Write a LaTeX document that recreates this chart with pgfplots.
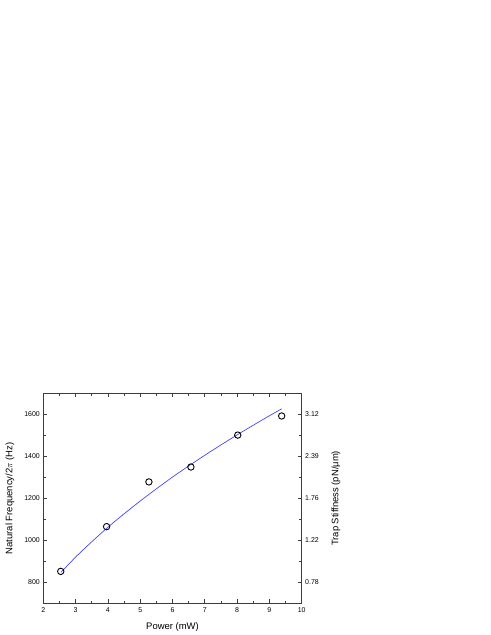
\documentclass[border=0pt]{standalone}
\usepackage{pgfplots}
\pgfplotsset{compat=1.18}
\usepackage{fontspec}
\setmainfont{Liberation Sans}

\definecolor{fitblue}{RGB}{70,70,245}
\definecolor{axisgray}{RGB}{60,60,60}

\begin{document}
\begin{tikzpicture}
\path[use as bounding box] (-43.3bp,-31.7bp) rectangle (447.7bp,603.3bp);
\pgfplotsset{
  every axis/.append style={
    scale only axis, width=258.4bp, height=210bp,
    xmin=2, xmax=10, ymin=700, ymax=1700,
    tick align=inside,
    axis line style={axisgray, line width=0.8pt},
    every tick/.style={axisgray, line width=0.6pt},
    major tick length=4bp, minor tick length=2.5bp,
    /pgf/number format/assume math mode=true,
    /pgf/number format/1000 sep={},
    tick label style={font=\fontsize{7}{8}\selectfont},
    label style={font=\fontsize{9.5}{11}\selectfont},
  }
}
\begin{axis}[
  xtick={2,3,...,10}, minor xtick={2.5,3.5,...,9.5},
  ytick={800,1000,...,1600}, minor ytick={900,1100,...,1700},
  xtick pos=both, ytick pos=left,
  xticklabel pos=bottom,
  xlabel={Power (mW)},
  ylabel={Natural Frequency/2$\pi$ (Hz)},
  xlabel style={yshift=-3bp},
  ylabel style={yshift=3bp},
  xticklabel style={yshift=-1bp},
]
% fitted curve
\addplot[fitblue, line width=0.7pt, smooth] coordinates {
  (2.55,848) (3,920) (3.5,993) (4,1062) (4.5,1126) (5,1187) (5.5,1245)
  (6,1301) (6.5,1354) (7,1405) (7.5,1454) (8,1502) (8.5,1548) (9,1593) (9.38,1626)
};
% measured points
\addplot[only marks, mark=o, mark size=3.2bp, mark options={black, line width=0.9pt}] coordinates {
  (2.54,852) (3.96,1065) (5.27,1278) (6.57,1349) (8.02,1501) (9.38,1592)
};
\end{axis}
\begin{axis}[
  axis x line=none, axis y line*=right,
  ytick={800,1000,...,1600}, minor ytick={900,1100,...,1700},
  yticklabels={0.78,1.22,1.76,2.39,3.12},
  ylabel={Trap Stiffness (pN/μm)},
  ylabel style={yshift=-6bp},
]
\addplot[draw=none] coordinates {(2,800) (10,1600)};
\end{axis}
\end{tikzpicture}
\end{document}
